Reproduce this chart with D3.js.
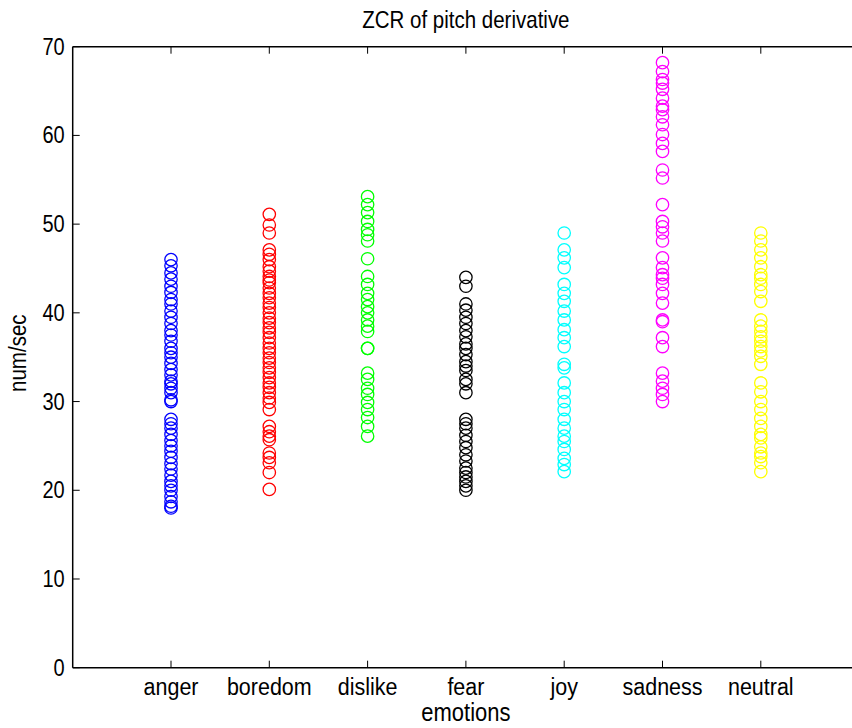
<!DOCTYPE html>
<html><head><meta charset="utf-8">
<script src="https://cdn.jsdelivr.net/npm/d3@7"></script>
<style>
html,body{margin:0;padding:0;background:#fff;}
svg{display:block;font-family:"Liberation Sans",Arial,Helvetica,sans-serif;}
</style></head>
<body><svg id="c" width="852" height="728"></svg>
<script>
const categories = ["anger","boredom","dislike","fear","joy","sadness","neutral"];
const colors = ["#0000ff","#ff0000","#00ff00","#000000","#00ffff","#ff00ff","#ffff00"];
const yTicks = [0,10,20,30,40,50,60,70];

const anger = [46,45.3,44.5,43.8,43,42.3,41.5,41,40.2,39.5,38.8,38,37.5,36.8,36,35.5,35,34.3,33.6,33,32.3,32,31.5,31,30.2,30,
  28,27.5,27,26.3,25.6,25,24.4,23.7,23,22.4,21.7,21,20.5,20,19.3,18.7,18.2,18];
const boredom = [51.1,49.9,49,47.1,46.6,46,45.2,44.7,44.1,43.7,43.4,42.8,42.2,41.7,41.1,40.6,40,39.4,38.9,38.3,37.8,37.2,36.6,36,35.5,34.9,34.4,33.8,33.3,32.7,32.1,31.6,31,30.4,29.9,29.1,
  27.2,26.6,26.1,25.7,24.2,23.7,23.1,22,20.1];
const dislike = [53.1,52.2,51.3,50.3,49.4,48.8,48.1,46.1,44.1,43.2,42.2,41.5,40.7,40,39.2,38.5,37.9,36,36,
  33.2,32.5,31.5,30.8,29.9,29.1,28.2,27.2,26.1];
const fear = [44,43,41,40.3,39.5,38.8,38,37.3,36.5,36,35.3,34.5,34,33.5,32.5,32,31,
  28,27.5,27,26.2,25.5,24.8,24,23.3,22.5,22,21.5,21,20.5,20];
const joy = [49,47.1,46.2,45.1,43.2,42.2,41.3,40.2,39.2,38.1,37.2,36.2,34.2,33.8,32.1,31,30,29.1,28,27,26.1,25.5,24.6,23.6,22.9,22.1];
const sadness = [68.2,67.2,66.3,65.9,65.2,64.2,63.3,62.9,62.1,61.2,60.1,59.1,58.2,56.1,55.2,52.2,50.3,49.7,49,48.1,
  46.2,45.1,44.3,43.9,43.2,42.2,41.1,39.2,39,37.2,36.2,33.2,32.3,31.5,30.8,30];
const neutral = [49,48.1,47.1,46.2,45.2,44.3,43.9,43.2,42.4,41.3,39.2,38.5,37.9,37.3,36.8,36.2,35.7,35.1,34.2,
  32.1,31.1,30,29.1,28.1,27.2,26.3,25.9,24.9,24.2,23.8,23.1,22.1];
const series = [anger,boredom,dislike,fear,joy,sadness,neutral];

const svg = d3.select("#c");
const L = 72.7, T = 46.7, B = 667.7, step = 98.3;
const x = d3.scaleLinear().domain([0,8]).range([L, L + 8*step]);
const y = d3.scaleLinear().domain([0,70]).range([B, T]);
const SY = 1.15;

function txt(parent, px, py, s, size, anchor, rot) {
  const t = parent.append("text")
    .attr("transform", `translate(${px},${py})` + (rot ? ` rotate(${rot})` : "") + ` scale(1,${SY})`)
    .attr("text-anchor", anchor).attr("font-size", size).text(s);
  return t;
}

// frame
svg.append("line").attr("x1",L).attr("x2",852).attr("y1",T).attr("y2",T).attr("stroke","#000").attr("stroke-width",1.5);
svg.append("line").attr("x1",L).attr("x2",852).attr("y1",B).attr("y2",B).attr("stroke","#000").attr("stroke-width",1.5);
svg.append("line").attr("x1",L).attr("x2",L).attr("y1",T).attr("y2",B).attr("stroke","#000").attr("stroke-width",1.5);

// y ticks
const yt = svg.append("g");
yTicks.forEach(v => {
  yt.append("line").attr("x1",L).attr("x2",L+7).attr("y1",y(v)).attr("y2",y(v)).attr("stroke","#000");
  txt(yt, L-8, y(v)+8, v, 20, "end");
});
// x ticks
const xt = svg.append("g");
categories.forEach((c,i) => {
  const xv = x(i+1);
  xt.append("line").attr("x1",xv).attr("x2",xv).attr("y1",B).attr("y2",B-7).attr("stroke","#000");
  xt.append("line").attr("x1",xv).attr("x2",xv).attr("y1",T).attr("y2",T+7).attr("stroke","#000");
  txt(xt, xv, B+27, c, 21.5, "middle");
});

// points
series.forEach((vals,i) => {
  svg.append("g").selectAll("circle").data(vals).join("circle")
    .attr("cx", x(i+1)).attr("cy", d => y(d)).attr("r",6.2)
    .attr("fill","none").attr("stroke",colors[i]).attr("stroke-width",1.3);
});

txt(svg, (L+x(8))/2, 28, "ZCR of pitch derivative", 20.5, "middle");
txt(svg, (L+x(8))/2, 721, "emotions", 22, "middle");
txt(svg, 26, (T+B)/2 - 4, "num/sec", 20.5, "middle", -90);
</script></body></html>
